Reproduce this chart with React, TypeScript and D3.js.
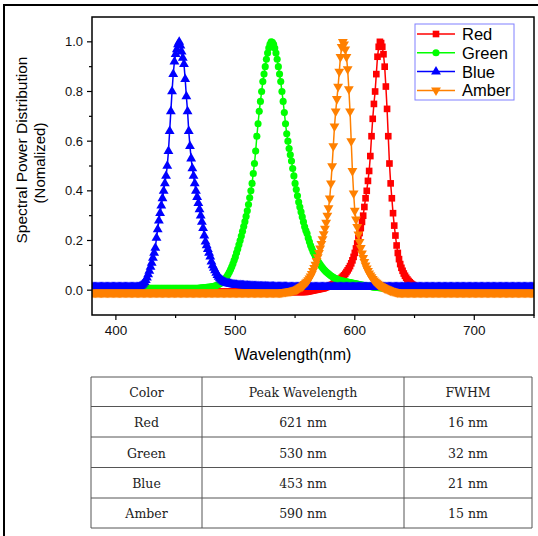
import React from 'react';
import * as d3 from 'd3';

// legend / series order (also drawing order)
const seriesNames = ['Red', 'Green', 'Blue', 'Amber'];
const seriesColors = ['#ff0000', '#00ff00', '#0000ff', '#ff8000'];
const seriesSymbols = ['square', 'circle', 'triangle', 'triangleDown'];

// spectra, 1 nm steps from the start wavelength; flat baselines outside
const redStart = 560;
const redValues = [
  -0.006, -0.005, -0.004, -0.003, -0.002, -0.001, 0, 0.001, 0.002, 0.003,
  0.004, 0.005, 0.006, 0.007, 0.008, 0.01, 0.012, 0.014, 0.016, 0.018,
  0.02, 0.022, 0.025, 0.028, 0.031, 0.034, 0.037, 0.041, 0.045, 0.05,
  0.055, 0.06, 0.066, 0.073, 0.08, 0.088, 0.097, 0.108, 0.12, 0.134,
  0.15, 0.168, 0.188, 0.21, 0.23, 0.25, 0.275, 0.3, 0.335, 0.37,
  0.4, 0.44, 0.48, 0.54, 0.62, 0.69, 0.75, 0.8, 0.87, 0.94,
  0.98, 1.0, 0.995, 0.98, 0.95, 0.9, 0.82, 0.73, 0.62, 0.51,
  0.43, 0.37, 0.31, 0.26, 0.22, 0.18, 0.15, 0.125, 0.105, 0.09,
  0.078, 0.067, 0.058, 0.05, 0.043, 0.037, 0.032, 0.027, 0.023, 0.02,
  0.017, 0.014, 0.012, 0.01, 0.008, 0.006, 0.005, 0.004, 0.003, 0.002, 0.001,
];
const redBaseline = [-0.007, 0];

const greenStart = 470;
const greenValues = [
  0.008, 0.008, 0.009, 0.009, 0.01, 0.01, 0.011, 0.011, 0.012, 0.012,
  0.013, 0.014, 0.015, 0.017, 0.019, 0.021, 0.023, 0.026, 0.029, 0.033,
  0.038, 0.043, 0.049, 0.056, 0.064, 0.073, 0.083, 0.094, 0.106, 0.12,
  0.134, 0.15, 0.166, 0.183, 0.2, 0.218, 0.237, 0.256, 0.276, 0.297,
  0.32, 0.345, 0.372, 0.4, 0.43, 0.47, 0.51, 0.56, 0.62, 0.67,
  0.72, 0.76, 0.8, 0.84, 0.87, 0.9, 0.93, 0.955, 0.975, 0.99,
  1.0, 0.998, 0.99, 0.975, 0.955, 0.93, 0.9, 0.87, 0.84, 0.8,
  0.76, 0.715, 0.67, 0.63, 0.6, 0.57, 0.545, 0.52, 0.49, 0.46,
  0.43, 0.405, 0.38, 0.355, 0.335, 0.315, 0.295, 0.275, 0.255, 0.24,
  0.228, 0.21, 0.195, 0.18, 0.168, 0.156, 0.147, 0.136, 0.126, 0.118,
  0.11, 0.103, 0.096, 0.09, 0.084, 0.079, 0.074, 0.07, 0.066, 0.062,
  0.058, 0.055, 0.052, 0.049, 0.047, 0.045, 0.043, 0.041, 0.039, 0.038,
  0.037, 0.036, 0.035, 0.034, 0.033, 0.032, 0.031, 0.03, 0.029, 0.028,
  0.027, 0.026, 0.025, 0.024, 0.023, 0.022, 0.021, 0.02, 0.019, 0.019,
  0.018, 0.017, 0.016, 0.015, 0.014, 0.013, 0.012, 0.012, 0.011, 0.011,
  0.01, 0.01, 0.009, 0.009, 0.008, 0.008, 0.008, 0.007, 0.007, 0.007, 0.007,
];
const greenBaseline = [0.007, 0.006];

const blueStart = 419;
const blueValues = [
  0.012, 0.014, 0.017, 0.021, 0.026, 0.032, 0.04, 0.05, 0.063, 0.078,
  0.094, 0.11, 0.13, 0.15, 0.17, 0.21, 0.245, 0.28, 0.31, 0.34,
  0.37, 0.4, 0.43, 0.46, 0.5, 0.56, 0.64, 0.72, 0.8, 0.87,
  0.92, 0.95, 0.97, 0.99, 1.0, 0.985, 0.96, 0.935, 0.91, 0.85,
  0.78, 0.72, 0.64, 0.58, 0.53, 0.49, 0.46, 0.43, 0.4, 0.375,
  0.35, 0.325, 0.3, 0.275, 0.25, 0.22, 0.195, 0.18, 0.165, 0.15,
  0.135, 0.115, 0.1, 0.09, 0.08, 0.07, 0.06, 0.053, 0.047, 0.042,
  0.038, 0.034, 0.032, 0.03, 0.028, 0.027, 0.026, 0.025, 0.024, 0.023,
  0.022, 0.021, 0.021, 0.02, 0.02, 0.02, 0.019, 0.019, 0.019, 0.018,
  0.018, 0.018, 0.017, 0.017, 0.017, 0.017, 0.016, 0.016, 0.016, 0.016,
  0.016, 0.015, 0.015, 0.015, 0.015, 0.015, 0.015, 0.014, 0.014, 0.014,
  0.014, 0.014, 0.014, 0.014, 0.013, 0.013, 0.013, 0.013, 0.013, 0.013,
  0.013, 0.013, 0.013, 0.013, 0.013, 0.012, 0.012, 0.012, 0.012, 0.012,
];
const blueBaseline = [0.012, 0.012];

const amberStart = 540;
const amberValues = [
  -0.008, -0.007, -0.007, -0.006, -0.006, -0.005, -0.004, -0.003, -0.002, -0.001,
  0.0, 0.002, 0.004, 0.007, 0.01, 0.013, 0.016, 0.02, 0.025, 0.03,
  0.035, 0.041, 0.048, 0.056, 0.066, 0.078, 0.09, 0.103, 0.118, 0.133,
  0.15, 0.168, 0.187, 0.206, 0.226, 0.248, 0.272, 0.3, 0.33, 0.37,
  0.43, 0.5, 0.58, 0.66, 0.72, 0.77, 0.82, 0.88, 0.94, 0.98,
  1.0, 0.99, 0.97, 0.94, 0.89, 0.81, 0.72, 0.6, 0.48, 0.39,
  0.32, 0.285, 0.255, 0.225, 0.195, 0.17, 0.148, 0.13, 0.114, 0.1,
  0.088, 0.078, 0.068, 0.06, 0.053, 0.046, 0.04, 0.035, 0.03, 0.026,
  0.022, 0.019, 0.016, 0.013, 0.011, 0.008, 0.006, 0.004, 0.002, 0.0,
  -0.002, -0.003, -0.005, -0.006, -0.007, -0.008,
];
const amberBaseline = [-0.01, -0.01];

const xMajorTicks = [400, 500, 600, 700];
const xMinorTicks = [450, 550, 650, 750];
const yMajorTicks = [0, 0.2, 0.4, 0.6, 0.8, 1.0];
const yMinorTicks = [0.1, 0.3, 0.5, 0.7, 0.9];

// table beneath the plot
const tableHeader = ['Color', 'Peak Wavelength', 'FWHM'];
const tableColors = ['Red', 'Green', 'Blue', 'Amber'];
const tablePeaks = ['621 nm', '530 nm', '453 nm', '590 nm'];
const tableFwhm = ['16 nm', '32 nm', '21 nm', '15 nm'];

const W = 538;
const H = 536;
const plot = { left: 92, right: 534, top: 17, bottom: 315 };

const x = d3.scaleLinear().domain([380, 750]).range([plot.left, plot.right]);
const y = d3.scaleLinear().domain([-0.1, 1.1]).range([plot.bottom, plot.top]);

const buildSeries = (start: number, values: number[], base: number[]) => {
  const end = start + values.length;
  return [
    ...d3.range(380, start).map((l) => [l, base[0]]),
    ...values.map((v, i) => [start + i, v]),
    ...d3.range(end, 751).map((l) => [l, base[1]]),
  ] as [number, number][];
};

const series = [
  buildSeries(redStart, redValues, redBaseline),
  buildSeries(greenStart, greenValues, greenBaseline),
  buildSeries(blueStart, blueValues, blueBaseline),
  buildSeries(amberStart, amberValues, amberBaseline),
];

const symbolPath = (kind: string) => {
  if (kind === 'square') return d3.symbol(d3.symbolSquare, 44)()!;
  if (kind === 'circle') return d3.symbol(d3.symbolCircle, 40)()!;
  return d3.symbol(d3.symbolTriangle, 42)()!;
};

const line = d3
  .line<[number, number]>()
  .x((d) => x(d[0]))
  .y((d) => y(d[1]));

const sans = 'Arial, "Liberation Sans", sans-serif';
const serif = '"DejaVu Serif", serif';

export default function App() {
  const colX = [91, 202, 404, 532];
  const rowY = [377, 406.5, 437, 467.5, 498, 528];
  const rows = [tableHeader, ...tableColors.map((c, i) => [c, tablePeaks[i], tableFwhm[i]])];

  return (
    <svg
      width={W}
      height={H}
      style={{ position: 'absolute', left: 0, top: 0, background: '#fff' }}
      fontFamily={sans}
    >
      <defs>
        <clipPath id="plot-clip">
          <rect x={plot.left} y={plot.top} width={plot.right - plot.left} height={plot.bottom - plot.top} />
        </clipPath>
      </defs>

      {/* outer frame */}
      <path d={`M4,${H} V5 H${W}`} fill="none" stroke="#000" strokeWidth={2} />

      {/* series */}
      <g clipPath="url(#plot-clip)">
        {series.map((data, si) => {
          const shape = seriesSymbols[si];
          const sym = symbolPath(shape);
          const rot = shape === 'triangleDown' ? ' rotate(180)' : '';
          return (
            <g key={seriesNames[si]}>
              <path d={line(data)!} fill="none" stroke={seriesColors[si]} strokeWidth={1.5} />
              {data.map((d, i) => (
                <path
                  key={i}
                  d={sym}
                  transform={`translate(${x(d[0])},${y(d[1])})${rot}`}
                  fill={seriesColors[si]}
                />
              ))}
            </g>
          );
        })}
      </g>

      {/* plot frame */}
      <rect
        x={plot.left}
        y={plot.top}
        width={plot.right - plot.left}
        height={plot.bottom - plot.top}
        fill="none"
        stroke="#000"
        strokeWidth={1.5}
      />

      {/* x axis ticks */}
      {xMajorTicks.map((t) => (
        <g key={t}>
          <line x1={x(t)} x2={x(t)} y1={plot.bottom} y2={plot.bottom + 5} stroke="#000" strokeWidth={1.2} />
          <text x={x(t)} y={plot.bottom + 20} fontSize={13.5} textAnchor="middle" fill="#111">
            {t}
          </text>
        </g>
      ))}
      {xMinorTicks.map((t) => (
        <line key={t} x1={x(t)} x2={x(t)} y1={plot.bottom} y2={plot.bottom + 3} stroke="#000" strokeWidth={1.2} />
      ))}

      {/* y axis ticks */}
      {yMajorTicks.map((t) => (
        <g key={t}>
          <line x1={plot.left - 5} x2={plot.left} y1={y(t)} y2={y(t)} stroke="#000" strokeWidth={1.2} />
          <text x={plot.left - 9} y={y(t)} dy="0.35em" fontSize={13} textAnchor="end" fill="#111">
            {t.toFixed(1)}
          </text>
        </g>
      ))}
      {yMinorTicks.map((t) => (
        <line key={t} x1={plot.left - 3} x2={plot.left} y1={y(t)} y2={y(t)} stroke="#000" strokeWidth={1.2} />
      ))}

      {/* axis titles */}
      <text x={293} y={360} fontSize={16} textAnchor="middle" fill="#000">
        Wavelength(nm)
      </text>
      <text transform="translate(27,150) rotate(-90)" fontSize={15.5} textAnchor="middle" fill="#000">
        Spectral Power Distribution
      </text>
      <text transform="translate(45,163) rotate(-90)" fontSize={15} textAnchor="middle" fill="#000">
        (Nomalized)
      </text>

      {/* legend */}
      <g>
        <rect x={415} y={24} width={99} height={76} fill="#fff" stroke="#8080ff" strokeWidth={1} />
        {seriesNames.map((name, i) => {
          const ly = 34 + i * 18.8;
          const rot = seriesSymbols[i] === 'triangleDown' ? ' rotate(180)' : '';
          return (
            <g key={name}>
              <line x1={417} x2={455} y1={ly} y2={ly} stroke={seriesColors[i]} strokeWidth={1.5} />
              <path d={symbolPath(seriesSymbols[i])} transform={`translate(436,${ly})${rot}`} fill={seriesColors[i]} />
              <text x={462} y={ly} dy="0.36em" fontSize={16.5} fill="#000">
                {name}
              </text>
            </g>
          );
        })}
      </g>

      {/* table */}
      <g fontFamily={serif} fontSize={12.5} fill="#222">
        {rowY.map((ry, i) => (
          <line key={`r${i}`} x1={colX[0]} x2={colX[3]} y1={ry} y2={ry} stroke="#555" strokeWidth={1} />
        ))}
        {colX.map((cx, i) => (
          <line key={`c${i}`} x1={cx} x2={cx} y1={rowY[0]} y2={rowY[5]} stroke="#555" strokeWidth={1} />
        ))}
        {rows.map((row, ri) =>
          row.map((cell, ci) => (
            <text
              key={`${ri}-${ci}`}
              x={(colX[ci] + colX[ci + 1]) / 2}
              y={(rowY[ri] + rowY[ri + 1]) / 2 + 1}
              dy="0.35em"
              textAnchor="middle"
            >
              {cell}
            </text>
          ))
        )}
      </g>
    </svg>
  );
}
